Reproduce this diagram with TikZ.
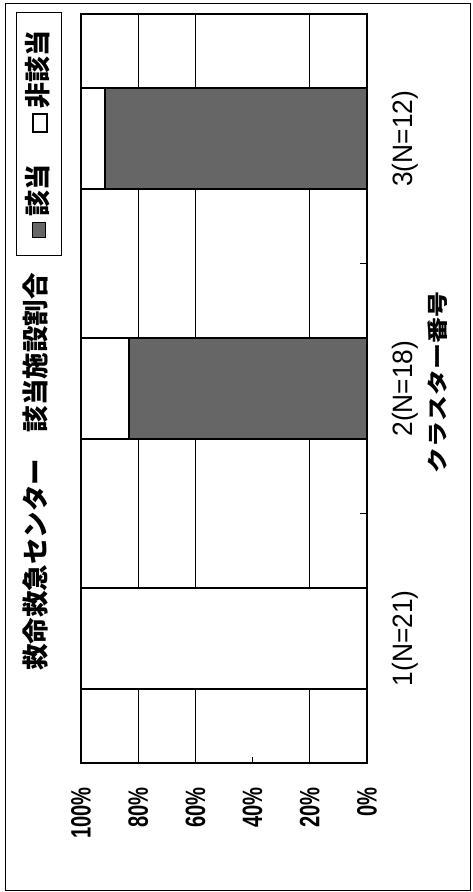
\documentclass[tikz,border=0pt]{standalone}
\usepackage{fontspec}
\usepackage{graphicx}
\setmainfont{Liberation Sans}
\newfontfamily\jp{Noto Sans CJK JP}

\begin{document}
\begin{tikzpicture}[x=1pt,y=-1pt,
    chart frame/.style={draw,line width=0.9pt},
    plot frame/.style={draw,line width=2pt},
    grid line/.style={draw,line width=1pt},
    hit/.style={fill=black!60},
    nohit/.style={fill=white},
    bar edge/.style={draw,line width=2pt},
    tick label/.style={rotate=90,anchor=east,inner sep=0pt,font=\bfseries\fontsize{28}{28}\selectfont},
    cat label/.style={rotate=90,inner sep=0pt,font=\fontsize{28}{28}\selectfont},
    jp text/.style={rotate=90,inner sep=0pt,font=\jp\bfseries\fontsize{26}{26}\selectfont}]
  \useasboundingbox (0,0) rectangle (472,892);
  \draw[chart frame] (5,3) rectangle (470.5,890.5);
  % title and legend
  \node[jp text,font=\jp\bfseries\fontsize{26.5}{26.5}\selectfont] (title) at (35.5,472) {救命救急センター　該当施設割合};
  \draw[line width=0.9pt] (16.5,12.5) rectangle (61.5,255.5);
  \draw[hit,line width=0.6pt] (32,222.5) rectangle (45,237.5);
  \node[jp text] (leghit) at (37.5,190) {該当};
  \draw[nohit,line width=2pt] (32.5,114) rectangle (46.5,132);
  \node[jp text] (legnohit) at (37.5,69) {非該当};
  % grid and axes
  \foreach \p in {80,60,20}
    \draw[grid line] ({367-2.86*\p},14) -- ({367-2.86*\p},763);
  \foreach \p in {100,80,60,40,20,0} {
    \draw[grid line] ({367-2.86*\p},763) -- ({367-2.86*\p},757);
    \node[tick label] (tick\p) at ({367-2.86*\p},787) {\scalebox{0.72}[1]{\p\%}};
  }
  \foreach \y in {263.7,513.3}
    \draw[grid line] (367,\y) -- (360,\y);
  % bars
  \foreach \c/\p/\n in {638.2/0/1(N=21),388.5/83.33/2(N=18),138.8/91.67/3(N=12)} {
    \path[nohit] (81,{\c-50.5}) rectangle ({367-2.86*\p},{\c+50.5});
    \path[hit] ({367-2.86*\p},{\c-50.5}) rectangle (367,{\c+50.5});
    \draw[bar edge] ({367-2.86*\p},{\c-50.5}) -- ({367-2.86*\p},{\c+50.5});
    \draw[bar edge] (81,{\c-50.5}) rectangle (367,{\c+50.5});
    \node[cat label] at (405.5,\c) {\scalebox{0.94}[1]{\n}};
  }
  \draw[plot frame] (81,14) rectangle (367,763);
  \node[jp text] (cataxis) at (438,382.5) {\scalebox{1}[0.8]{クラスター番号}};
\end{tikzpicture}
\end{document}
